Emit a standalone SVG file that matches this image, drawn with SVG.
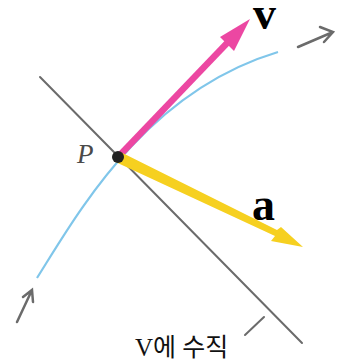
<svg xmlns="http://www.w3.org/2000/svg" width="337" height="364" viewBox="0 0 337 364">
<style>
.gray{stroke:#6b6b6b;fill:none;stroke-linecap:round}
.curve{stroke:#80c6ea;stroke-width:2.2;fill:none}
.lbl{font-family:"Liberation Serif",serif;font-weight:bold;fill:#000}
</style>
<rect width="337" height="364" fill="#fff"/>
<g id="normal-line"><line class="gray" x1="40" y1="77" x2="302" y2="343" stroke-width="2"/></g>
<g id="path-curve"><path class="curve" d="M37,278 C78,213 145,92 278,52"/></g>
<g id="connectors">
<path class="gray" d="M298,47 L333,32 M320,27 L333,32 L324,42" stroke-width="2.5"/>
<path class="gray" d="M17,322 L32,290 M23,297 L32,290 L33,302" stroke-width="2.5"/>
<line class="gray" x1="245" y1="335" x2="264" y2="317" stroke-width="2"/>
</g>
<g id="vec-v">
<line x1="118" y1="157" x2="230" y2="40" stroke="#ec47a2" stroke-width="6.5"/>
<polygon points="250,19 220,37 234,51" fill="#ec47a2"/>
</g>
<g id="vec-a">
<polygon points="120.5,152 277,230 281,227 303,247 271,241 275,236 115.5,162" fill="#f6d020"/>
</g>
<g id="P"><circle cx="118" cy="157" r="6" fill="#222"/>
<text x="77" y="163" font-family="Liberation Serif,serif" font-style="italic" font-size="27" fill="#4a4a4a">P</text></g>
<g id="label-v"><text class="lbl" x="253" y="29" font-size="46">v</text></g>
<g id="label-a"><text class="lbl" x="252" y="220" font-size="46">a</text></g>
<g id="label-perp"><text x="135" y="356" font-family="'Liberation Serif','Noto Sans CJK KR',serif" font-size="25" fill="#111">V에 수직</text></g>
</svg>
